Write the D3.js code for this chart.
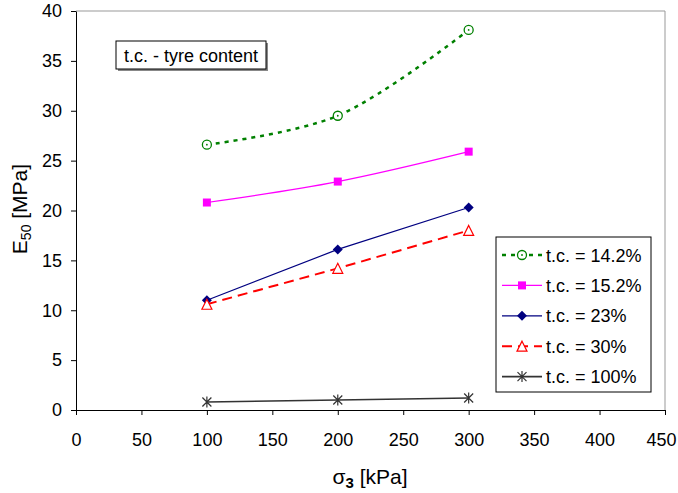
<!DOCTYPE html>
<html>
<head>
<meta charset="utf-8">
<script src="https://cdn.jsdelivr.net/npm/d3@7"></script>
<style>
body{margin:0;background:#fff;}
text{font-family:"Liberation Sans",Arial,sans-serif;}
</style>
</head>
<body>
<div id="chart"></div>
<script>
// sigma3 values [kPa]
var sigma3 = [100, 200, 300]
// E50 [MPa] for each tyre content
var tc142 = [26.6, 29.5, 38.1]
var tc152 = [20.8, 22.9, 25.9]
var tc23 = [11.0, 16.1, 20.3]
var tc30 = [10.6, 14.2, 18.0]
var tc100 = [0.8, 1.0, 1.2]
var seriesNames = ["t.c. = 14.2%", "t.c. = 15.2%", "t.c. = 23%", "t.c. = 30%", "t.c. = 100%"]
var xTicks = [0, 50, 100, 150, 200, 250, 300, 350, 400, 450]
var yTicks = [0, 5, 10, 15, 20, 25, 30, 35, 40]

var W = 678, H = 493
var pLeft = 76, pRight = 665, pTop = 11, pBottom = 410

var svg = d3.select("#chart").append("svg")
	.attr("width", W).attr("height", H)

var x = d3.scaleLinear().domain([0, 450]).range([pLeft, pRight])
var y = d3.scaleLinear().domain([0, 40]).range([pBottom, pTop])

// plot area border (grey top / right)
svg.append("path")
	.attr("d", "M" + pLeft + "," + pTop + "H" + pRight + "V" + pBottom)
	.attr("fill", "none").attr("stroke", "#999").attr("stroke-width", 1)

var xg = svg.append("g")
	.attr("transform", "translate(0," + pBottom + ")")
	.call(d3.axisBottom(x).tickValues(xTicks).tickSize(5).tickPadding(18).tickSizeOuter(0))
svg.append("g")
	.attr("transform", "translate(" + pLeft + ",0)")
	.call(d3.axisLeft(y).tickValues(yTicks).tickSize(5).tickPadding(9).tickSizeOuter(0))
svg.selectAll(".domain, .tick line").attr("stroke", "#000")
svg.selectAll(".tick text").attr("font-size", 18).attr("fill", "#000")
	.style("font-family", "'Liberation Sans', Arial, sans-serif")
// last x label pushed in so it stays inside the picture, like the original
xg.selectAll(".tick text").filter(function(d){ return d == 450 }).attr("dx", -4)

// axis titles
var yl = svg.append("text")
	.attr("transform", "translate(27,209) rotate(-90)")
	.attr("text-anchor", "middle").attr("font-size", 21)
yl.append("tspan").text("E")
yl.append("tspan").text("50").attr("font-size", 14).attr("dy", 4)
yl.append("tspan").text(" [MPa]").attr("font-size", 21).attr("dy", -4)

var xl = svg.append("text")
	.attr("x", 370).attr("y", 484)
	.attr("text-anchor", "middle").attr("font-size", 21)
xl.append("tspan").text("σ")
xl.append("tspan").text("3").attr("font-size", 15).attr("font-weight", "bold").attr("dy", 4)
xl.append("tspan").text(" [kPa]").attr("dy", -4)

var series = [
	{vals: tc142, color: "#008000", dash: "4,5", width: 2.5, curve: d3.curveCatmullRom, marker: "circle"},
	{vals: tc152, color: "#ff00ff", dash: null, width: 1.2, curve: d3.curveCatmullRom, marker: "square"},
	{vals: tc23, color: "#000080", dash: null, width: 1.2, curve: d3.curveLinear, marker: "diamond"},
	{vals: tc30, color: "#ff0000", dash: "10,6", width: 2, curve: d3.curveLinear, marker: "triangle"},
	{vals: tc100, color: "#333333", dash: null, width: 1.6, curve: d3.curveLinear, marker: "star"}
]

function drawMarker(g, type, cx, cy, color){
	if(type == "circle"){
		g.append("circle").attr("cx", cx).attr("cy", cy).attr("r", 4.5)
			.attr("fill", "#fff").attr("stroke", color).attr("stroke-width", 1.3)
		g.append("circle").attr("cx", cx).attr("cy", cy).attr("r", 0.9).attr("fill", color)
	} else if(type == "square"){
		g.append("rect").attr("x", cx - 4).attr("y", cy - 4).attr("width", 8).attr("height", 8).attr("fill", color)
	} else if(type == "diamond"){
		g.append("path").attr("d", "M" + cx + "," + (cy - 5) + "L" + (cx + 5) + "," + cy + "L" + cx + "," + (cy + 5) + "L" + (cx - 5) + "," + cy + "Z")
			.attr("fill", color)
	} else if(type == "triangle"){
		g.append("path").attr("d", "M" + cx + "," + (cy - 5) + "L" + (cx + 5) + "," + (cy + 5) + "L" + (cx - 5) + "," + (cy + 5) + "Z")
			.attr("fill", "#fff").attr("stroke", color).attr("stroke-width", 1.2)
	} else {
		var s = 4.5
		g.append("path").attr("d", "M" + (cx - s) + "," + (cy - s) + "L" + (cx + s) + "," + (cy + s) +
			"M" + (cx + s) + "," + (cy - s) + "L" + (cx - s) + "," + (cy + s) + "M" + cx + "," + (cy - s - 1) + "V" + (cy + s + 1))
			.attr("stroke", color).attr("stroke-width", 1.2)
	}
}

series.forEach(function(s){
	var line = d3.line()
		.x(function(d, i){ return x(sigma3[i]) })
		.y(function(d){ return y(d) })
		.curve(s.curve)
	svg.append("path").datum(s.vals)
		.attr("d", line)
		.attr("fill", "none").attr("stroke", s.color).attr("stroke-width", s.width)
		.attr("stroke-dasharray", s.dash)
	var g = svg.append("g")
	s.vals.forEach(function(v, i){ drawMarker(g, s.marker, x(sigma3[i]), y(v), s.color) })
})

// note box
svg.append("rect").attr("x", 118).attr("y", 43).attr("width", 150).attr("height", 28)
	.attr("fill", "#888")
svg.append("rect").attr("x", 116).attr("y", 41).attr("width", 150).attr("height", 28)
	.attr("fill", "#fff").attr("stroke", "#000").attr("stroke-width", 1)
svg.append("text").attr("x", 191).attr("y", 61.5).attr("text-anchor", "middle")
	.attr("font-size", 18).text("t.c. - tyre content")

// legend
var lg = svg.append("g")
lg.append("rect").attr("x", 496).attr("y", 237).attr("width", 155).attr("height", 155)
	.attr("fill", "#fff").attr("stroke", "#000").attr("stroke-width", 1)
series.forEach(function(s, i){
	var ly = 255 + i * 30.4
	lg.append("line").attr("x1", 502).attr("x2", 542).attr("y1", ly).attr("y2", ly)
		.attr("stroke", s.color).attr("stroke-width", s.width)
		.attr("stroke-dasharray", s.dash)
	drawMarker(lg, s.marker, 522, ly, s.color)
	lg.append("text").attr("x", 546).attr("y", ly + 6.5).attr("font-size", 18).text(seriesNames[i])
})
</script>
</body>
</html>
